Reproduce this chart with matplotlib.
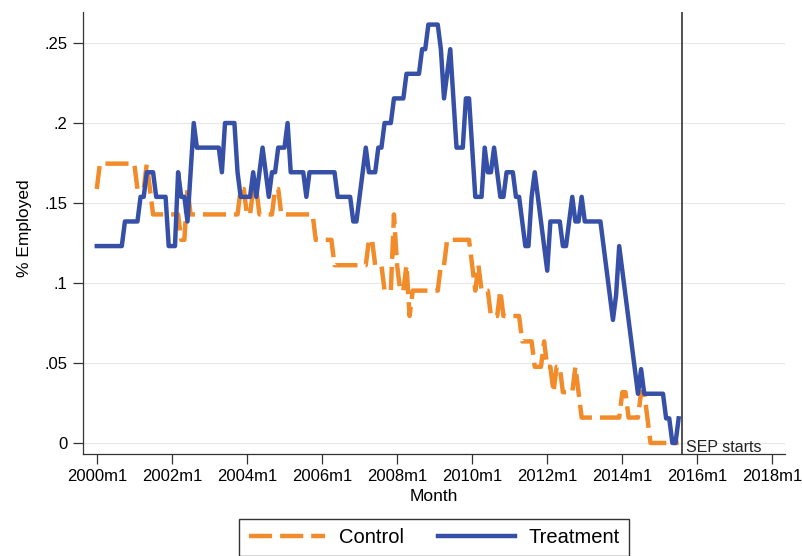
import matplotlib
matplotlib.use("Agg")
import matplotlib.pyplot as plt
import numpy as np

plt.rcParams['font.family'] = ['Liberation Sans', 'DejaVu Sans']

# number employed each month, 2000m1 .. 2015m7
n_treat = 65
n_control = 63
treat_employed = [
    8, 8, 8, 8, 8, 8, 8, 8, 8, 9, 9, 9,            # 2000
    9, 9, 10, 10, 11, 11, 11, 10, 10, 10, 10, 8,   # 2001
    8, 8, 11, 10, 10, 9, 11, 13, 12, 12, 12, 12,   # 2002
    12, 12, 12, 12, 11, 13, 13, 13, 13, 11, 10, 10,  # 2003
    10, 10, 11, 10, 11, 12, 11, 10, 11, 11, 12, 12,  # 2004
    12, 13, 11, 11, 11, 11, 11, 10, 11, 11, 11, 11,  # 2005
    11, 11, 11, 11, 11, 10, 10, 10, 10, 10, 9, 9,    # 2006
    10, 11, 12, 11, 11, 11, 12, 12, 13, 13, 13, 14,  # 2007
    14, 14, 14, 15, 15, 15, 15, 15, 16, 16, 17, 17,  # 2008
    17, 17, 16, 14, 15, 16, 14, 12, 12, 12, 14, 14,  # 2009
    12, 10, 10, 10, 12, 11, 11, 12, 11, 10, 10, 11,  # 2010
    11, 11, 10, 10, 9, 8, 8, 10, 11, 10, 9, 8,       # 2011
    7, 9, 9, 9, 9, 8, 8, 9, 10, 9, 9, 10,            # 2012
    9, 9, 9, 9, 9, 9, 8, 7, 6, 5, 6, 8,              # 2013
    7, 6, 5, 4, 3, 2, 3, 2, 2, 2, 2, 2,              # 2014
    2, 2, 1, 1, 0, 0, 1,                             # 2015
]
control_employed = [
    10, 11, 11, 11, 11, 11, 11, 11, 11, 11, 11, 11,  # 2000
    11, 10, 10, 10, 11, 10, 9, 9, 9, 9, 9, 9,        # 2001
    9, 9, 9, 8, 8, 10, 9, 9, 9, 9, 9, 9,             # 2002
    9, 9, 9, 9, 9, 9, 9, 9, 9, 9, 10, 10,            # 2003
    9, 9, 10, 10, 9, 9, 9, 9, 9, 10, 10, 9,          # 2004
    9, 9, 9, 9, 9, 9, 9, 9, 9, 9, 8, 8,              # 2005
    8, 8, 8, 8, 7, 7, 7, 7, 7, 7, 7, 7,              # 2006
    7, 7, 7, 8, 8, 7, 7, 7, 6, 6, 6, 9,              # 2007
    7, 6, 6, 7, 5, 6, 6, 6, 6, 6, 6, 6,              # 2008
    6, 6, 7, 7, 8, 8, 8, 8, 8, 8, 8, 8,              # 2009
    7, 6, 7, 6, 6, 6, 5, 5, 5, 6, 5, 5,              # 2010
    5, 5, 5, 5, 4, 4, 4, 4, 3, 3, 3, 4,              # 2011
    3, 3, 2, 3, 3, 2, 2, 2, 2, 3, 2, 1,              # 2012
    1, 1, 1, 1, 1, 1, 1, 1, 1, 1, 1, 1,              # 2013
    2, 2, 1, 1, 1, 1, 2, 2, 1, 0, 0, 0,              # 2014
    0, 0, 0, 0, 0, 0, 0,                             # 2015
]

# stata monthly dates: 480 = 2000m1
start_month = 480
sep_start = 667   # 2015m8
xtick_vals = [480, 504, 528, 552, 576, 600, 624, 648, 672, 696]
ytick_vals = [0, .05, .1, .15, .2, .25]
ytick_labels = ['0', '.05', '.1', '.15', '.2', '.25']

def tm_label(t):
    return '%dm%d' % (1960 + t // 12, t % 12 + 1)

months = start_month + np.arange(len(treat_employed))
treat = np.array(treat_employed) / n_treat
control = np.array(control_employed) / n_control

fig = plt.figure(figsize=(8.03, 5.56), dpi=100)
ax = fig.add_axes([83 / 803, 1 - 454 / 556, 702 / 803, 442 / 556])

ax.plot(months, control, color='#f28b2a', lw=3.2, dashes=(5.2, 1.8),
        dash_capstyle='butt', label='Control')
ax.plot(months, treat, color='#3550a6', lw=3.2, label='Treatment')

ax.axvline(sep_start, color='#222222', lw=1.1)
ax.text(sep_start + 1.4, -0.0055, 'SEP starts', fontsize=11.5,
        va='baseline', ha='left', color='#222222')

ax.set_xlim(475.6, 700)
ax.set_ylim(-0.0069, 0.2694)
ax.set_xticks(xtick_vals)
ax.set_xticklabels([tm_label(t) for t in xtick_vals])
ax.set_yticks(ytick_vals)
ax.set_yticklabels(ytick_labels)

ax.spines['top'].set_visible(False)
ax.spines['right'].set_visible(False)
for s in ['left', 'bottom']:
    ax.spines[s].set_color('#333333')
    ax.spines[s].set_linewidth(0.9)
ax.tick_params(length=7, width=0.9, color='#333333', pad=4, labelsize=12)
ax.yaxis.grid(True, color='#e9e9e9', lw=0.9)
ax.set_axisbelow(True)

ax.set_xlabel('Month', fontsize=12.5)
ax.set_ylabel('% Employed', fontsize=12.5)
ax.xaxis.set_label_coords(0.5, -0.08)
ax.yaxis.set_label_coords(-0.073, 0.51)

leg = fig.legend(loc='upper center', bbox_to_anchor=(434 / 803, 1 - 519 / 556),
                 borderaxespad=0, ncol=2, fontsize=14.5, handlelength=3.8,
                 handletextpad=0.68, columnspacing=1.7, borderpad=0.45,
                 fancybox=False, edgecolor='#333333', framealpha=1)
leg.get_frame().set_linewidth(1.0)

fig.savefig('out.png', dpi=100)
